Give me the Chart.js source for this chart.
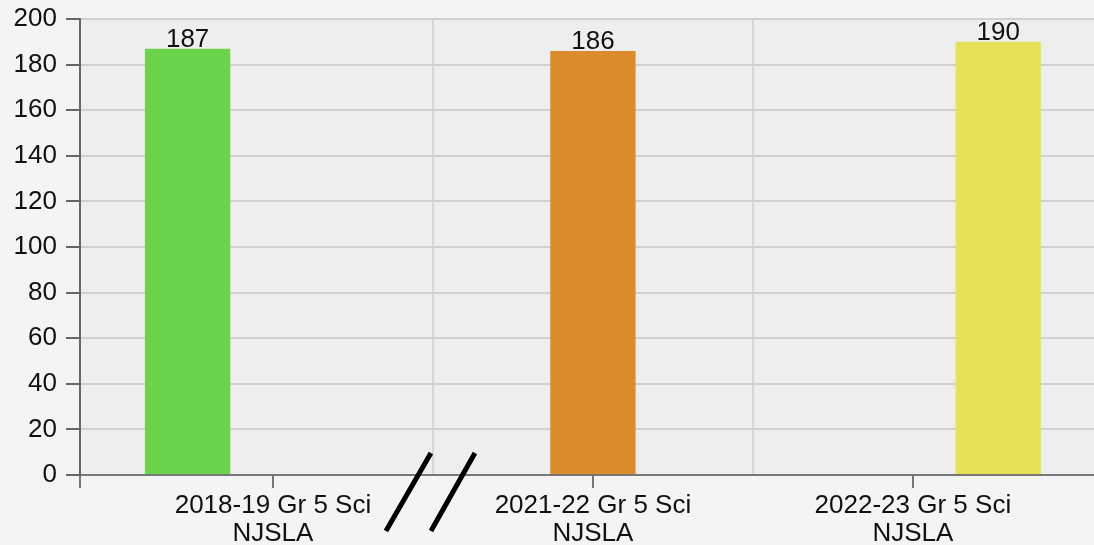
<!DOCTYPE html>
<html>
<head>
<meta charset="utf-8">
<script src="https://cdn.jsdelivr.net/npm/chart.js@4"></script>
<style>
  html, body { margin: 0; padding: 0; background: #f4f4f4; }
  #wrap { width: 1094px; height: 545px; position: relative; }
</style>
</head>
<body>
<div id="wrap"><canvas id="grafica"></canvas></div>
<script>
// Datos
const categorias = [
    ['2018-19 Gr 5 Sci', 'NJSLA'],
    ['2021-22 Gr 5 Sci', 'NJSLA'],
    ['2022-23 Gr 5 Sci', 'NJSLA']
];
const valores = [187, 186, 190];
const colores = ['#6bd24b', '#db8c2c', '#e5e25a'];
const yTicks = [0, 20, 40, 60, 80, 100, 120, 140, 160, 180, 200];

const fuente = 'Liberation Sans, Arial, Helvetica, sans-serif';
const X_MIN = -0.603;
const X_MAX = 2.566;

// Un dataset por barra, cada uno con un solo punto.
// Los ticks van cada 0.5, asi que 1.6 equivale a 0.8 de la categoria completa
const datasets = valores.map((v, i) => ({
    label: categorias[i].join(' '),
    data: [{ x: i, y: v }],
    backgroundColor: colores[i],
    borderWidth: 0,
    barPercentage: 1,
    categoryPercentage: 1.6
}));

const esEntero = v => Math.abs(v - Math.round(v)) < 1e-9;
const esMedio = v => Math.abs(v * 2 - Math.round(v * 2)) < 1e-9 && !esEntero(v);

// Fondo del area de la grafica
const fondoPlugin = {
    id: 'fondo',
    beforeDraw(chart) {
        const { ctx, chartArea } = chart;
        ctx.save();
        ctx.fillStyle = '#eeeeee';
        ctx.fillRect(chartArea.left, chartArea.top, chartArea.right - chartArea.left, chartArea.bottom - chartArea.top);
        ctx.restore();
    }
};

// Etiquetas de valor encima de las barras
const etiquetasPlugin = {
    id: 'etiquetas',
    afterDatasetsDraw(chart) {
        const ctx = chart.ctx;
        ctx.save();
        ctx.font = '26px ' + fuente;
        ctx.fillStyle = '#111';
        ctx.textAlign = 'center';
        ctx.textBaseline = 'alphabetic';
        chart.data.datasets.forEach((ds, i) => {
            chart.getDatasetMeta(i).data.forEach((el, j) => {
                ctx.fillText(String(ds.data[j].y), el.x, el.y - 2);
            });
        });
        ctx.restore();
    }
};

// Marca de corte "//" entre la primera y segunda categoria
const cortePlugin = {
    id: 'corte',
    afterDraw(chart) {
        const ctx = chart.ctx;
        const x0 = chart.scales.x.getPixelForValue(0.5);
        ctx.save();
        ctx.strokeStyle = '#000';
        ctx.lineWidth = 5;
        ctx.beginPath();
        ctx.moveTo(x0 - 47, 531);
        ctx.lineTo(x0 - 2, 453);
        ctx.moveTo(x0 - 2, 531);
        ctx.lineTo(x0 + 42, 453);
        ctx.stroke();
        ctx.restore();
    }
};

new Chart(document.getElementById('grafica'), {
    type: 'bar',
    data: { datasets },
    options: {
        responsive: true,
        maintainAspectRatio: false,
        animation: false,
        events: [],
        layout: { padding: { top: 19, left: 0, right: 0, bottom: 0 } },
        plugins: {
            legend: { display: false },
            tooltip: { enabled: false }
        },
        scales: {
            x: {
                type: 'linear',
                offset: false,
                min: X_MIN,
                max: X_MAX,
                afterFit: s => { s.height = 70; s.paddingLeft = 0; s.paddingRight = 0; },
                border: { display: true, color: '#777', width: 2 },
                grid: {
                    offset: false,
                    lineWidth: 2,
                    tickLength: 13,
                    tickWidth: 2,
                    color: c => (c.tick && esMedio(c.tick.value)) ? '#d6d6d6' : 'rgba(0,0,0,0)',
                    tickColor: c => (c.tick && (esEntero(c.tick.value) || c.tick.value === X_MIN)) ? '#777' : 'rgba(0,0,0,0)'
                },
                ticks: {
                    stepSize: 0.5,
                    autoSkip: false,
                    minRotation: 0,
                    maxRotation: 0,
                    padding: 4,
                    color: '#111',
                    font: { family: fuente, size: 26, lineHeight: 28 / 26 },
                    callback: v => esEntero(v) && categorias[Math.round(v)] ? categorias[Math.round(v)] : ''
                }
            },
            y: {
                min: yTicks[0],
                max: yTicks[yTicks.length - 1],
                afterFit: s => { s.width = 80; s.paddingTop = 0; s.paddingBottom = 0; },
                afterBuildTicks: s => { s.ticks = yTicks.map(v => ({ value: v })); },
                border: { display: true, color: '#666', width: 2 },
                grid: {
                    lineWidth: 2,
                    color: '#d0d0d0',
                    tickLength: 14,
                    tickWidth: 2,
                    tickColor: '#666'
                },
                ticks: {
                    padding: 9,
                    color: '#111',
                    font: { family: fuente, size: 26 }
                }
            }
        }
    },
    plugins: [fondoPlugin, etiquetasPlugin, cortePlugin]
});
</script>
</body>
</html>
